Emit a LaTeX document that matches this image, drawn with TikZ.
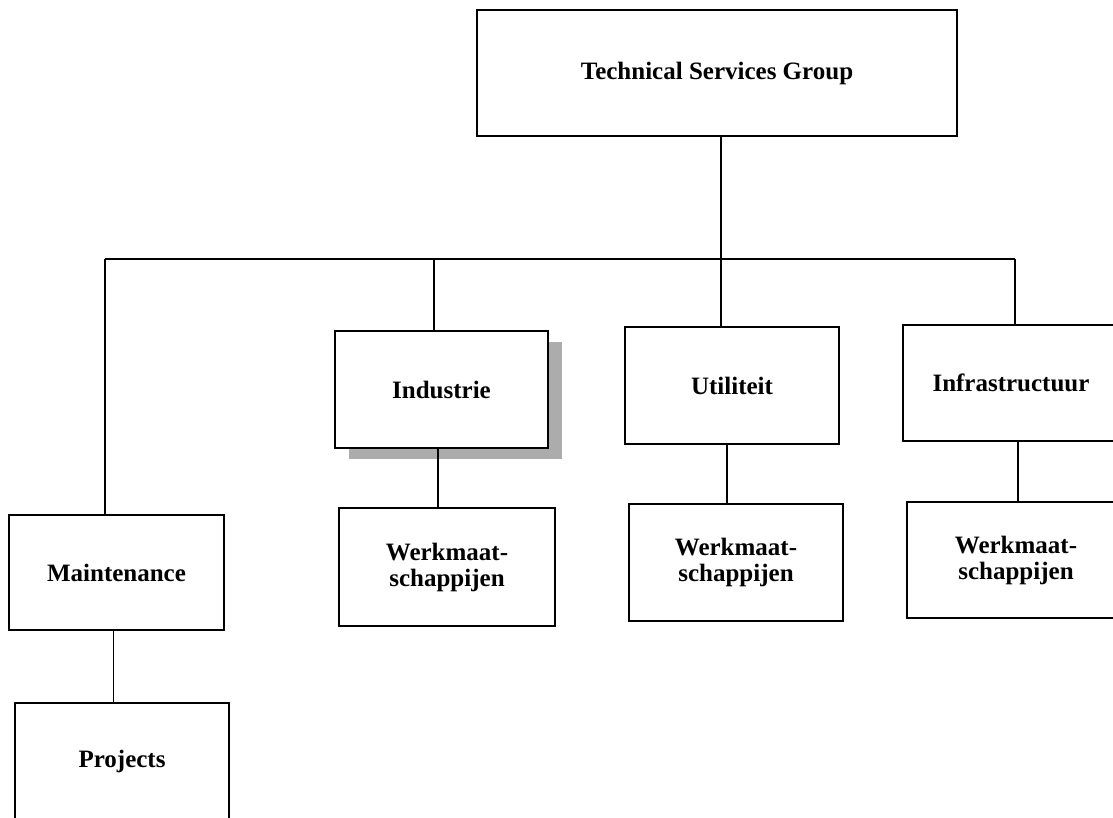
\documentclass[tikz,border=0pt]{standalone}
\usepackage{fontspec}
\setmainfont{Liberation Serif}
\usetikzlibrary{shadows}
\begin{document}
\begin{tikzpicture}[x=1pt,y=-1pt,
  unit/.style={draw, line width=1.6pt, fill=white, align=center,
    font=\fontsize{25}{26}\selectfont\bfseries, inner sep=0pt},
  link/.style={line width=1.6pt}]
\clip (0,0) rectangle (1113,817);
\fill[white] (0,0) rectangle (1113,817);

% top of the organisation
\node[unit, minimum width=480, minimum height=126] (tsg) at (717,73) {Technical Services Group};

% divisions
\node[unit, minimum width=213, minimum height=117,
  drop shadow={shadow xshift=14pt, shadow yshift=-11pt, fill=gray!65, opacity=1}]
  (indu) at (441.5,389.5) {Industrie};
\node[unit, minimum width=214, minimum height=117] (util) at (732,385.5) {Utiliteit};
\node[unit, minimum width=216, minimum height=116] (infra) at (1011,383) {Infrastructuur};
\node[unit, minimum width=215, minimum height=115] (maint) at (116.5,572.5) {Maintenance};

% operating companies and projects
\node[unit, minimum width=216, minimum height=118] (wm1) at (447,567) {Werkmaat-\\schappijen};
\node[unit, minimum width=214, minimum height=117] (wm2) at (736,562.5) {Werkmaat-\\schappijen};
\node[unit, minimum width=218, minimum height=116] (wm3) at (1016,560) {Werkmaat-\\schappijen};
\node[unit, minimum width=214, minimum height=116] (proj) at (122,761) {Projects};

% bus between the divisions
\coordinate (busW) at (105,259);
\coordinate (busI) at (434,259);
\coordinate (busE) at (1015,259);
\draw[link] (busW) -- (busE);
\draw[link] ([xshift=4pt]tsg.south) -- ([xshift=4pt]tsg.south |- util.north);
\draw[link] (busW) -- (busW |- maint.north);
\draw[link] (busI) -- (busI |- indu.north);
\draw[link] (busE) -- (busE |- infra.north);

% links to the lower level
\draw[link] ([xshift=-3pt]maint.south) -- ([xshift=-3pt]maint.south |- proj.north);
\draw[link] ([xshift=-3.5pt]indu.south) -- ([xshift=-3.5pt]indu.south |- wm1.north);
\draw[link] ([xshift=-5pt]util.south) -- ([xshift=-5pt]util.south |- wm2.north);
\draw[link] ([xshift=7pt]infra.south) -- ([xshift=7pt]infra.south |- wm3.north);
\end{tikzpicture}
\end{document}
